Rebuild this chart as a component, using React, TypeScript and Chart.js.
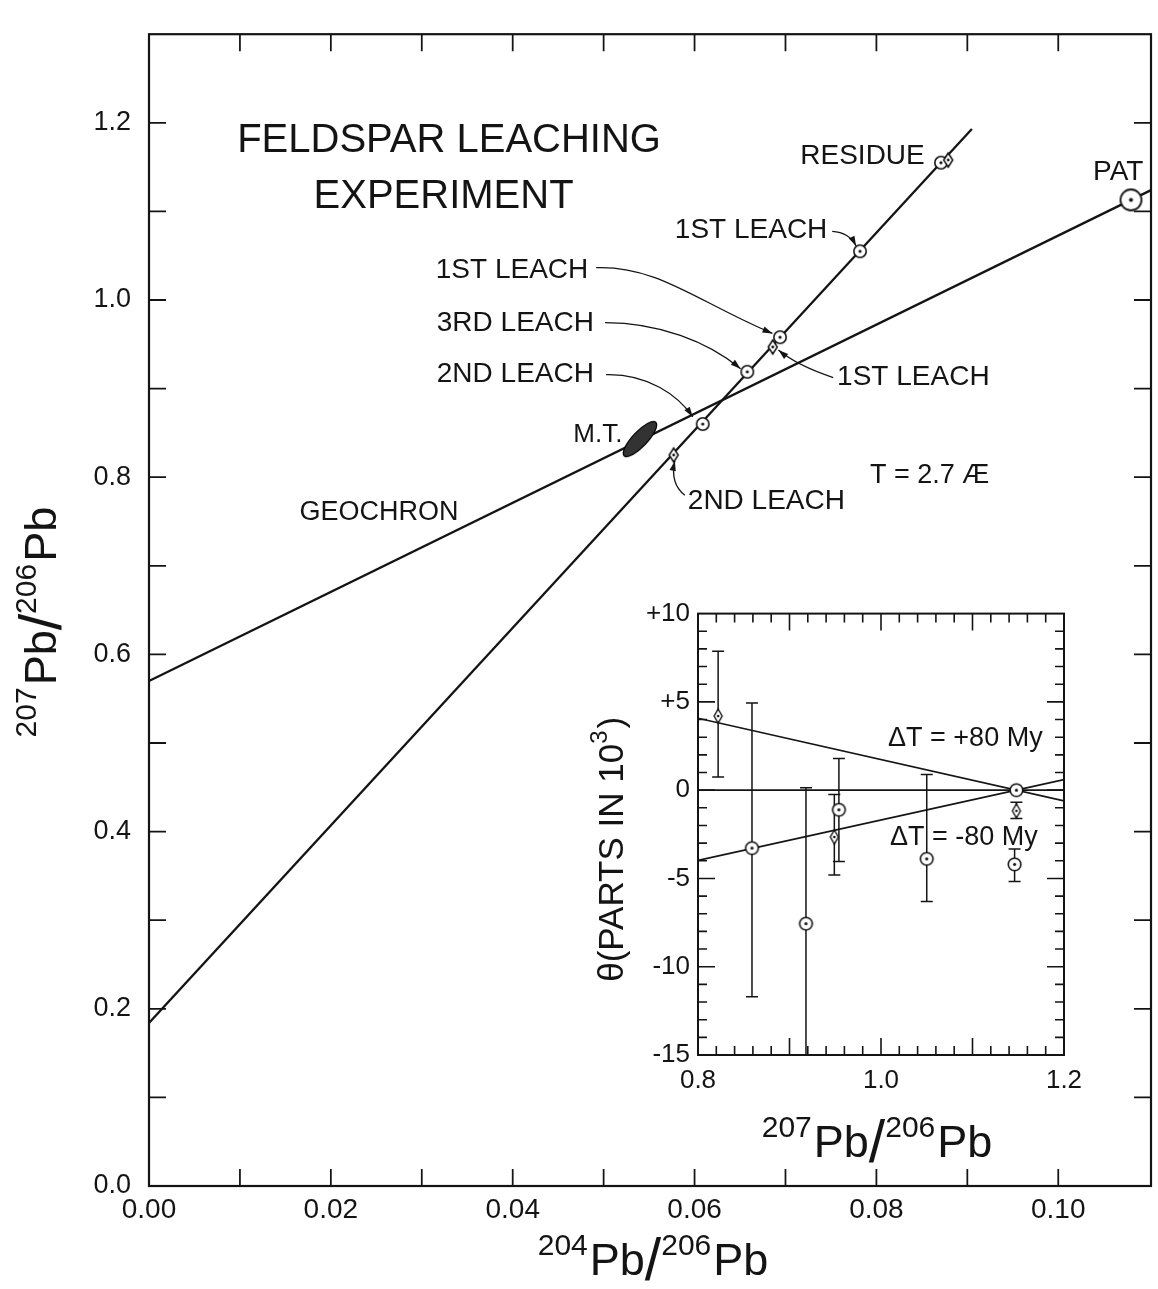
import React, { useEffect, useRef } from "react";
import { Chart, registerables } from "chart.js";

Chart.register(...registerables);

const FONT = '"Liberation Sans", Arial, sans-serif';
const INK = "#141414";

// ---------------- Main plot data (204Pb/206Pb vs 207Pb/206Pb) ----------------
const GEOCHRON_X = [0, 0.1102];
const GEOCHRON_Y = [0.57, 1.124];
const LEACH_LINE_X = [0, 0.0905];
const LEACH_LINE_Y = [0.184, 1.193];
// circles: 2nd leach, 3rd leach, 1st leach, 1st leach (upper), residue
const LEACH_CIRCLE_X = [0.0609, 0.0658, 0.0694, 0.0782, 0.0871];
const LEACH_CIRCLE_Y = [0.86, 0.919, 0.958, 1.055, 1.155];
// diamonds: 2nd leach, 1st leach, residue
const LEACH_DIAMOND_X = [0.0577, 0.0686, 0.0879];
const LEACH_DIAMOND_Y = [0.825, 0.947, 1.158];
const PAT_X = [0.108];
const PAT_Y = [1.113];
const MT_X = [0.054];
const MT_Y = [0.843];

const MAIN_X_TICK_VALUES = [0, 0.02, 0.04, 0.06, 0.08, 0.1];
const MAIN_X_TICK_LABELS = ["0.00", "0.02", "0.04", "0.06", "0.08", "0.10"];
const MAIN_Y_TICK_VALUES = [0, 0.2, 0.4, 0.6, 0.8, 1.0, 1.2];
const MAIN_Y_TICK_LABELS = ["0.0", "0.2", "0.4", "0.6", "0.8", "1.0", "1.2"];

// ---------------- Inset data (207Pb/206Pb vs theta) ----------------
const INSET_CIRCLE_X = [0.859, 0.918, 0.954, 1.05, 1.148, 1.146];
const INSET_CIRCLE_Y = [-3.28, -7.56, -1.11, -3.89, 0.0, -4.2];
const INSET_CIRCLE_LOW: (number | null)[] = [-11.7, -17, -4.04, -6.3, null, -5.18];
const INSET_CIRCLE_HIGH: (number | null)[] = [4.94, 0.13, 1.8, 0.89, null, -3.33];
const INSET_DIAMOND_X = [0.822, 0.949, 1.148];
const INSET_DIAMOND_Y = [4.2, -2.65, -1.17];
const INSET_DIAMOND_LOW: (number | null)[] = [0.74, -4.8, -1.61];
const INSET_DIAMOND_HIGH: (number | null)[] = [7.87, -0.24, -0.68];
const PLUS80_X = [0.8, 1.2];
const PLUS80_Y = [4.07, -0.61];
const MINUS80_X = [0.8, 1.2];
const MINUS80_Y = [-3.98, 0.6];
const ZERO_X = [0.8, 1.2];
const ZERO_Y = [0, 0];

const INSET_X_TICK_VALUES = [0.8, 1.0, 1.2];
const INSET_X_TICK_LABELS = ["0.8", "1.0", "1.2"];
const INSET_Y_TICK_VALUES = [-15, -10, -5, 0, 5, 10];
const INSET_Y_TICK_LABELS = ["-15", "-10", "-5", "0", "+5", "+10"];

// ---------------- Annotations (data coordinates) ----------------
type Txt = { text: string; x: number; y: number; size: number; align: CanvasTextAlign };
const MAIN_TEXTS: Txt[] = [
  { text: "FELDSPAR LEACHING", x: 0.033, y: 1.1794, size: 40, align: "center" },
  { text: "EXPERIMENT", x: 0.0324, y: 1.1163, size: 40, align: "center" },
  { text: "RESIDUE", x: 0.07163, y: 1.1617, size: 28, align: "left" },
  { text: "PAT", x: 0.10383, y: 1.144, size: 28, align: "left" },
  { text: "1ST LEACH", x: 0.05783, y: 1.0786, size: 28, align: "left" },
  { text: "1ST LEACH", x: 0.03154, y: 1.0332, size: 28, align: "left" },
  { text: "3RD LEACH", x: 0.03165, y: 0.9734, size: 28, align: "left" },
  { text: "2ND LEACH", x: 0.03165, y: 0.9158, size: 28, align: "left" },
  { text: "1ST LEACH", x: 0.07568, y: 0.9125, size: 28, align: "left" },
  { text: "M.T.", x: 0.04666, y: 0.8483, size: 26, align: "left" },
  { text: "T = 2.7 Æ", x: 0.0793, y: 0.8018, size: 27, align: "left" },
  { text: "2ND LEACH", x: 0.05926, y: 0.773, size: 28, align: "left" },
  { text: "GEOCHRON", x: 0.01654, y: 0.7597, size: 27, align: "left" },
];
type P = [number, number];
const MAIN_ARROWS: P[][] = [
  [[0.07514, 1.0775], [0.077, 1.0764], [0.07777, 1.0609]],
  [[0.04918, 1.0365], [0.05597, 1.0388], [0.06035, 0.9978], [0.06857, 0.9623]],
  [[0.05016, 0.9745], [0.05597, 0.9745], [0.06145, 0.9535], [0.06506, 0.9225]],
  [[0.05027, 0.9158], [0.05487, 0.9169], [0.05816, 0.8926], [0.0598, 0.8682]],
  [[0.07525, 0.9125], [0.07131, 0.9258], [0.06922, 0.9435]],
  [[0.05893, 0.7796], [0.05728, 0.7929], [0.05783, 0.8184]],
];
const INSET_TEXTS: Txt[] = [
  { text: "ΔT = +80 My", x: 1.0077, y: 2.94, size: 27, align: "left" },
  { text: "ΔT = -80 My", x: 1.0098, y: -2.67, size: 27, align: "left" },
];

type Part = { t: string; sup?: boolean; big?: boolean };
const MAIN_X_TITLE: Part[] = [{ t: "204", sup: true }, { t: "Pb" }, { t: "/", big: true }, { t: "206", sup: true }, { t: "Pb" }];
const MAIN_Y_TITLE: Part[] = [{ t: "207", sup: true }, { t: "Pb" }, { t: "/", big: true }, { t: "206", sup: true }, { t: "Pb" }];
const INSET_X_TITLE: Part[] = [{ t: "207", sup: true }, { t: "Pb" }, { t: "/", big: true }, { t: "206", sup: true }, { t: "Pb" }];
const INSET_Y_TITLE: Part[] = [{ t: "θ(PARTS IN 10" }, { t: "3", sup: true }, { t: ")" }];

const range = (a: number, b: number, step: number) => {
  const out: number[] = [];
  for (let i = 0; a + i * step <= b + 1e-9; i++) out.push(+(a + i * step).toFixed(6));
  return out;
};
const zip = (xs: number[], ys: number[]) => xs.map((x, i) => ({ x, y: ys[i] }));

// ---------------- marker images ----------------
function markerCircle(r: number, lw: number, dot: number): HTMLCanvasElement {
  const s = Math.ceil(2 * r + lw + 4);
  const c = document.createElement("canvas");
  c.width = s;
  c.height = s;
  const g = c.getContext("2d")!;
  g.beginPath();
  g.arc(s / 2, s / 2, r, 0, Math.PI * 2);
  g.fillStyle = "#fff";
  g.fill();
  g.lineWidth = lw;
  g.strokeStyle = INK;
  g.stroke();
  g.beginPath();
  g.arc(s / 2, s / 2, dot, 0, Math.PI * 2);
  g.fillStyle = INK;
  g.fill();
  return c;
}
function markerDiamond(w: number, h: number, lw: number, dot: number): HTMLCanvasElement {
  const s = Math.ceil(Math.max(w, h) + lw + 4);
  const c = document.createElement("canvas");
  c.width = s;
  c.height = s;
  const g = c.getContext("2d")!;
  const m = s / 2;
  g.beginPath();
  g.moveTo(m, m - h / 2);
  g.lineTo(m + w / 2, m);
  g.lineTo(m, m + h / 2);
  g.lineTo(m - w / 2, m);
  g.closePath();
  g.fillStyle = "#fff";
  g.fill();
  g.lineWidth = lw;
  g.strokeStyle = INK;
  g.stroke();
  g.beginPath();
  g.arc(m, m, dot, 0, Math.PI * 2);
  g.fillStyle = INK;
  g.fill();
  return c;
}
function markerEllipse(len: number, thick: number, angleDeg: number): HTMLCanvasElement {
  const s = Math.ceil(len + 8);
  const c = document.createElement("canvas");
  c.width = s;
  c.height = s;
  const g = c.getContext("2d")!;
  g.beginPath();
  g.ellipse(s / 2, s / 2, len / 2, thick / 2, (angleDeg * Math.PI) / 180, 0, Math.PI * 2);
  g.fillStyle = "#333";
  g.fill();
  g.lineWidth = 1.2;
  g.strokeStyle = "#000";
  g.stroke();
  return c;
}

// ---------------- drawing helpers ----------------
function drawRich(ctx: CanvasRenderingContext2D, parts: Part[], cx: number, baseY: number, base: number, sup: number) {
  const fontFor = (p: Part) => `${p.sup ? sup : p.big ? Math.round(base * 1.3) : base}px ${FONT}`;
  let total = 0;
  const widths = parts.map((p) => {
    ctx.font = fontFor(p);
    const w = ctx.measureText(p.t).width + (p.sup ? 2 : 0);
    total += w;
    return w;
  });
  let x = cx - total / 2;
  ctx.textAlign = "left";
  ctx.textBaseline = "alphabetic";
  parts.forEach((p, i) => {
    ctx.font = fontFor(p);
    const dy = p.sup ? -base * 0.45 : p.big ? base * 0.12 : 0;
    ctx.fillText(p.t, x, baseY + dy);
    x += widths[i];
  });
}

function drawArrow(ctx: CanvasRenderingContext2D, pts: { x: number; y: number }[]) {
  ctx.beginPath();
  ctx.moveTo(pts[0].x, pts[0].y);
  if (pts.length === 4) ctx.bezierCurveTo(pts[1].x, pts[1].y, pts[2].x, pts[2].y, pts[3].x, pts[3].y);
  else if (pts.length === 3) ctx.quadraticCurveTo(pts[1].x, pts[1].y, pts[2].x, pts[2].y);
  else ctx.lineTo(pts[1].x, pts[1].y);
  ctx.stroke();
  const a = pts[pts.length - 2];
  const b = pts[pts.length - 1];
  const ang = Math.atan2(b.y - a.y, b.x - a.x);
  const L = 10;
  const W = 3.2;
  ctx.beginPath();
  ctx.moveTo(b.x, b.y);
  ctx.lineTo(b.x - L * Math.cos(ang) + W * Math.sin(ang), b.y - L * Math.sin(ang) - W * Math.cos(ang));
  ctx.lineTo(b.x - L * Math.cos(ang) - W * Math.sin(ang), b.y - L * Math.sin(ang) + W * Math.cos(ang));
  ctx.closePath();
  ctx.fill();
}

type FrameCfg = {
  xMinor: number[];
  xMajor: number[];
  yMinor: number[];
  yMajor: number[];
  minorLen: number;
  majorLen: number;
  lw: number;
};
function drawFrame(chart: any, cfg: FrameCfg) {
  const ctx: CanvasRenderingContext2D = chart.ctx;
  const a = chart.chartArea;
  const xs = chart.scales.x;
  const ys = chart.scales.y;
  ctx.save();
  ctx.strokeStyle = INK;
  ctx.lineWidth = cfg.lw;
  ctx.strokeRect(a.left, a.top, a.right - a.left, a.bottom - a.top);
  ctx.lineWidth = cfg.lw * 0.8;
  ctx.beginPath();
  const xt = (v: number, len: number) => {
    const px = xs.getPixelForValue(v);
    ctx.moveTo(px, a.bottom);
    ctx.lineTo(px, a.bottom - len);
    ctx.moveTo(px, a.top);
    ctx.lineTo(px, a.top + len);
  };
  const yt = (v: number, len: number) => {
    const py = ys.getPixelForValue(v);
    ctx.moveTo(a.left, py);
    ctx.lineTo(a.left + len, py);
    ctx.moveTo(a.right, py);
    ctx.lineTo(a.right - len, py);
  };
  cfg.xMinor.forEach((v) => xt(v, cfg.minorLen));
  cfg.xMajor.forEach((v) => xt(v, cfg.majorLen));
  cfg.yMinor.forEach((v) => yt(v, cfg.minorLen));
  cfg.yMajor.forEach((v) => yt(v, cfg.majorLen));
  ctx.stroke();
  ctx.restore();
}

function drawTexts(chart: any, texts: Txt[]) {
  const ctx: CanvasRenderingContext2D = chart.ctx;
  const xs = chart.scales.x;
  const ys = chart.scales.y;
  ctx.save();
  ctx.fillStyle = INK;
  ctx.textBaseline = "middle";
  texts.forEach((t) => {
    ctx.font = `${t.size}px ${FONT}`;
    ctx.textAlign = t.align;
    ctx.fillText(t.text, xs.getPixelForValue(t.x), ys.getPixelForValue(t.y));
  });
  ctx.restore();
}

export default function App() {
  const mainRef = useRef<HTMLCanvasElement>(null);
  const insetRef = useRef<HTMLCanvasElement>(null);

  useEffect(() => {
    Chart.defaults.font.family = FONT;
    Chart.defaults.color = INK;

    const circleImg = markerCircle(6.2, 1.6, 1.6);
    const diamondImg = markerDiamond(9, 14, 1.5, 1.4);
    const patImg = markerCircle(10.5, 1.8, 2);
    const mtImg = markerEllipse(46, 15, -46.6);
    const iCircleImg = markerCircle(6.3, 1.6, 1.6);
    const iDiamondImg = markerDiamond(8, 14, 1.4, 1.3);

    const mainDecor = {
      id: "mainDecor",
      afterDatasetsDraw(chart: any) {
        const ctx: CanvasRenderingContext2D = chart.ctx;
        const xs = chart.scales.x;
        const ys = chart.scales.y;
        drawTexts(chart, MAIN_TEXTS);
        ctx.save();
        ctx.strokeStyle = INK;
        ctx.fillStyle = INK;
        ctx.lineWidth = 1.3;
        MAIN_ARROWS.forEach((arr) =>
          drawArrow(
            ctx,
            arr.map(([x, y]) => ({ x: xs.getPixelForValue(x), y: ys.getPixelForValue(y) }))
          )
        );
        ctx.restore();
      },
      afterDraw(chart: any) {
        drawFrame(chart, {
          xMinor: [],
          xMajor: range(0.01, 0.1, 0.01),
          yMinor: [],
          yMajor: range(0.1, 1.2, 0.1),
          minorLen: 17,
          majorLen: 17,
          lw: 2.2,
        });
        const ctx: CanvasRenderingContext2D = chart.ctx;
        const a = chart.chartArea;
        ctx.save();
        ctx.fillStyle = INK;
        drawRich(ctx, MAIN_X_TITLE, (a.left + a.right) / 2 + 3, a.bottom + 89, 45, 30);
        ctx.translate(a.left - 93, (a.top + a.bottom) / 2 + 12);
        ctx.rotate(-Math.PI / 2);
        drawRich(ctx, MAIN_Y_TITLE, 0, 0, 45, 30);
        ctx.restore();
      },
    };

    const main = new Chart(mainRef.current!, {
      type: "scatter",
      data: {
        datasets: [
          { label: "M.T.", data: zip(MT_X, MT_Y), pointStyle: mtImg as any, pointRadius: 6, showLine: false },
          { label: "PAT", data: zip(PAT_X, PAT_Y), pointStyle: patImg as any, pointRadius: 6, showLine: false },
          { label: "Leach (diamond)", data: zip(LEACH_DIAMOND_X, LEACH_DIAMOND_Y), pointStyle: diamondImg as any, pointRadius: 6, showLine: false },
          { label: "Leach (circle)", data: zip(LEACH_CIRCLE_X, LEACH_CIRCLE_Y), pointStyle: circleImg as any, pointRadius: 6, showLine: false },
          { label: "Leach line", data: zip(LEACH_LINE_X, LEACH_LINE_Y), showLine: true, borderColor: INK, borderWidth: 2.3, pointRadius: 0 },
          { label: "Geochron", data: zip(GEOCHRON_X, GEOCHRON_Y), showLine: true, borderColor: INK, borderWidth: 2.3, pointRadius: 0 },
        ],
      },
      options: {
        responsive: false,
        animation: false,
        devicePixelRatio: 1,
        events: [],
        layout: { padding: { left: 0, top: 12, right: 3, bottom: 0 } },
        plugins: { legend: { display: false }, tooltip: { enabled: false }, title: { display: false } },
        scales: {
          x: {
            type: "linear",
            min: 0,
            max: 0.1102,
            grid: { display: false, drawTicks: false },
            border: { display: false },
            afterBuildTicks: (s: any) => {
              s.ticks = MAIN_X_TICK_VALUES.map((v) => ({ value: v }));
            },
            afterFit: (s: any) => {
              s.height = 103;
            },
            ticks: {
              autoSkip: false,
              maxRotation: 0,
              padding: 7,
              color: INK,
              font: { family: FONT, size: 28 },
              callback: (_v: any, i: number) => MAIN_X_TICK_LABELS[i],
            },
          },
          y: {
            type: "linear",
            min: 0,
            max: 1.3,
            grid: { display: false, drawTicks: false },
            border: { display: false },
            afterBuildTicks: (s: any) => {
              s.ticks = MAIN_Y_TICK_VALUES.map((v) => ({ value: v }));
            },
            afterFit: (s: any) => {
              s.width = 149;
            },
            ticks: {
              autoSkip: false,
              padding: 18,
              color: INK,
              font: { family: FONT, size: 27 },
              callback: (_v: any, i: number) => MAIN_Y_TICK_LABELS[i],
            },
          },
        },
      },
      plugins: [mainDecor],
    });

    const insetDecor = {
      id: "insetDecor",
      beforeDatasetsDraw(chart: any) {
        const ctx: CanvasRenderingContext2D = chart.ctx;
        const xs = chart.scales.x;
        const ys = chart.scales.y;
        const a = chart.chartArea;
        ctx.save();
        ctx.strokeStyle = INK;
        ctx.lineWidth = 1.5;
        const bars = (xv: number[], lo: (number | null)[], hi: (number | null)[]) =>
          xv.forEach((x, i) => {
            const l = lo[i];
            const h = hi[i];
            if (l == null || h == null) return;
            const px = xs.getPixelForValue(x);
            const pl = ys.getPixelForValue(l);
            const ph = ys.getPixelForValue(h);
            ctx.beginPath();
            ctx.moveTo(px, Math.max(ph, a.top));
            ctx.lineTo(px, Math.min(pl, a.bottom));
            if (ph >= a.top) {
              ctx.moveTo(px - 6, ph);
              ctx.lineTo(px + 6, ph);
            }
            if (pl <= a.bottom) {
              ctx.moveTo(px - 6, pl);
              ctx.lineTo(px + 6, pl);
            }
            ctx.stroke();
          });
        bars(INSET_CIRCLE_X, INSET_CIRCLE_LOW, INSET_CIRCLE_HIGH);
        bars(INSET_DIAMOND_X, INSET_DIAMOND_LOW, INSET_DIAMOND_HIGH);
        ctx.restore();
      },
      afterDraw(chart: any) {
        drawFrame(chart, {
          xMinor: range(0.82, 1.18, 0.02).filter((v) => Math.abs(v * 10 - Math.round(v * 10)) > 1e-6),
          xMajor: [0.9, 1.0, 1.1],
          yMinor: range(-14, 9, 1).filter((v) => v % 5 !== 0),
          yMajor: [-10, -5, 0, 5],
          minorLen: 9,
          majorLen: 17,
          lw: 2,
        });
        drawTexts(chart, INSET_TEXTS);
        const ctx: CanvasRenderingContext2D = chart.ctx;
        const a = chart.chartArea;
        ctx.save();
        ctx.fillStyle = INK;
        drawRich(ctx, INSET_X_TITLE, (a.left + a.right) / 2 - 4, a.bottom + 102, 45, 30);
        ctx.translate(a.left - 75, (a.top + a.bottom) / 2 + 15);
        ctx.rotate(-Math.PI / 2);
        drawRich(ctx, INSET_Y_TITLE, 0, 0, 35, 24);
        ctx.restore();
      },
    };

    const inset = new Chart(insetRef.current!, {
      type: "scatter",
      data: {
        datasets: [
          { label: "Diamonds", data: zip(INSET_DIAMOND_X, INSET_DIAMOND_Y), pointStyle: iDiamondImg as any, pointRadius: 6, showLine: false },
          { label: "Circles", data: zip(INSET_CIRCLE_X, INSET_CIRCLE_Y), pointStyle: iCircleImg as any, pointRadius: 6, showLine: false },
          { label: "ΔT = +80 My", data: zip(PLUS80_X, PLUS80_Y), showLine: true, borderColor: INK, borderWidth: 1.6, pointRadius: 0 },
          { label: "ΔT = -80 My", data: zip(MINUS80_X, MINUS80_Y), showLine: true, borderColor: INK, borderWidth: 1.6, pointRadius: 0 },
          { label: "zero", data: zip(ZERO_X, ZERO_Y), showLine: true, borderColor: INK, borderWidth: 1.6, pointRadius: 0 },
        ],
      },
      options: {
        responsive: false,
        animation: false,
        devicePixelRatio: 1,
        events: [],
        layout: { padding: { left: 0, top: 15, right: 36, bottom: 0 } },
        plugins: { legend: { display: false }, tooltip: { enabled: false }, title: { display: false } },
        scales: {
          x: {
            type: "linear",
            min: 0.8,
            max: 1.2,
            grid: { display: false, drawTicks: false },
            border: { display: false },
            afterBuildTicks: (s: any) => {
              s.ticks = INSET_X_TICK_VALUES.map((v) => ({ value: v }));
            },
            afterFit: (s: any) => {
              s.height = 115;
            },
            ticks: {
              autoSkip: false,
              maxRotation: 0,
              padding: 10,
              color: INK,
              font: { family: FONT, size: 26 },
              callback: (_v: any, i: number) => INSET_X_TICK_LABELS[i],
            },
          },
          y: {
            type: "linear",
            min: -15,
            max: 10,
            grid: { display: false, drawTicks: false },
            border: { display: false },
            afterBuildTicks: (s: any) => {
              s.ticks = INSET_Y_TICK_VALUES.map((v) => ({ value: v }));
            },
            afterFit: (s: any) => {
              s.width = 138;
            },
            ticks: {
              autoSkip: false,
              padding: 8,
              color: INK,
              font: { family: FONT, size: 26 },
              callback: (_v: any, i: number) => INSET_Y_TICK_LABELS[i],
            },
          },
        },
      },
      plugins: [insetDecor],
    });

    return () => {
      main.destroy();
      inset.destroy();
    };
  }, []);

  return (
    <div style={{ position: "absolute", left: 0, top: 0, width: 1158, height: 1289, background: "#fff" }}>
      <canvas ref={mainRef} width={1158} height={1289} style={{ position: "absolute", left: 0, top: 0 }} />
      <canvas ref={insetRef} width={540} height={580} style={{ position: "absolute", left: 560, top: 590 }} />
    </div>
  );
}
